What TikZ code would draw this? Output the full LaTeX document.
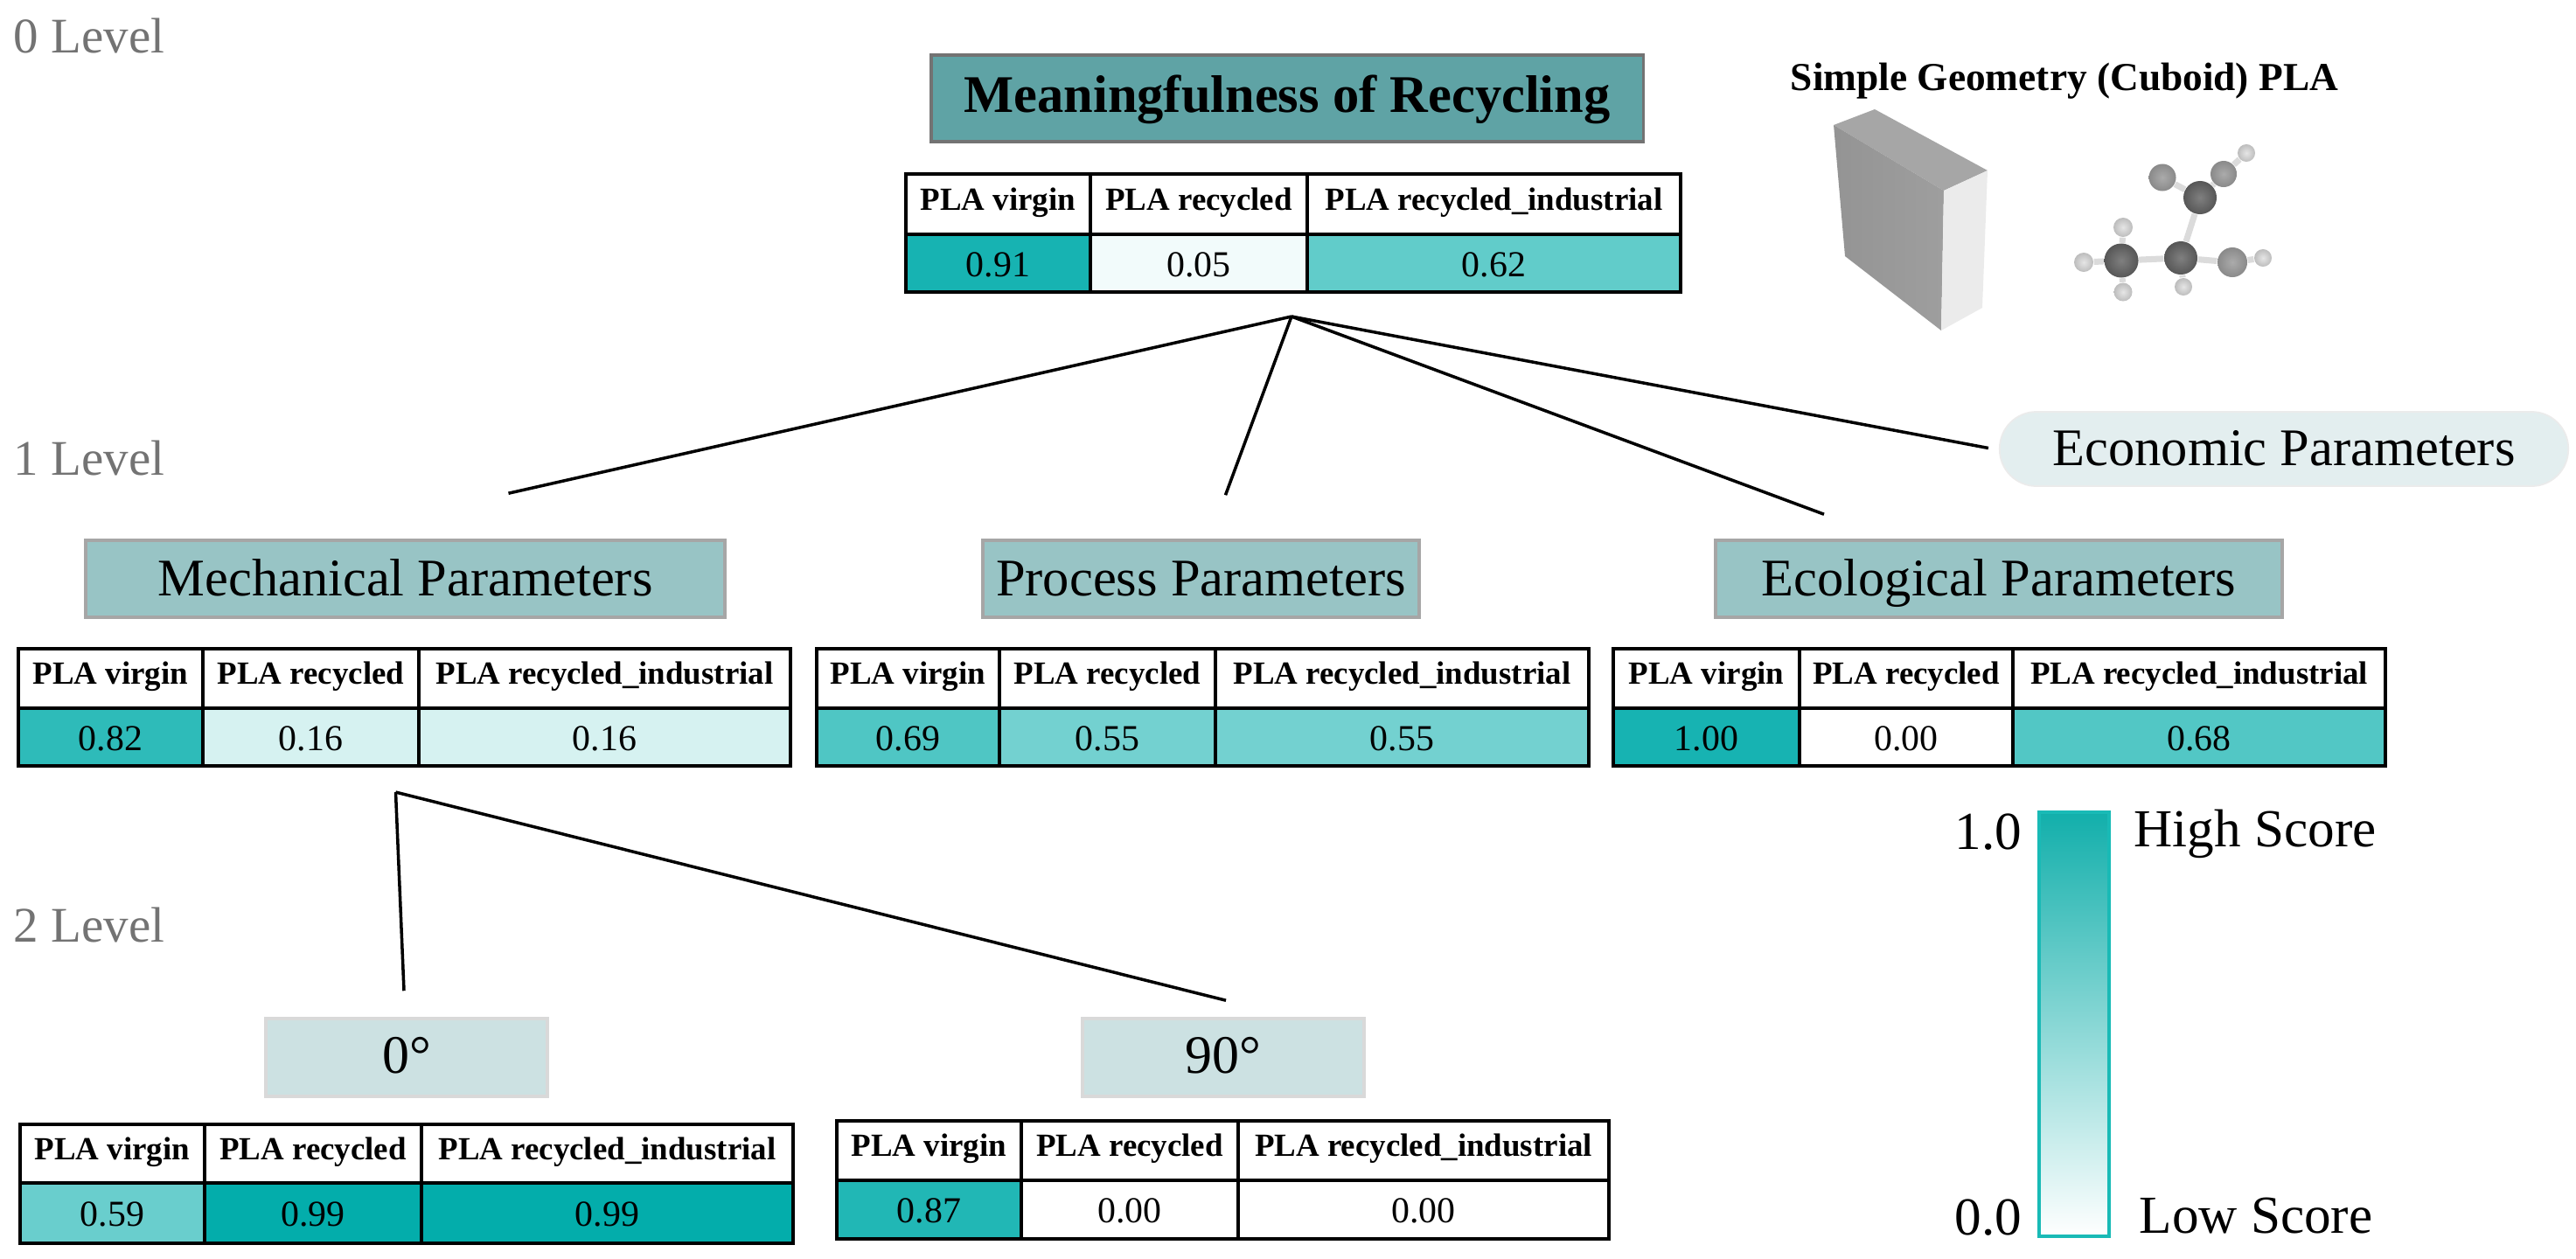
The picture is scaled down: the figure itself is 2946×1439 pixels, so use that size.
\documentclass[tikz,border=0pt]{standalone}
\usepackage{fontspec}
\usepackage{xcolor}
\setmainfont{Liberation Serif}

\definecolor{plateal}{HTML}{00ACAA}
\definecolor{titlefill}{HTML}{5FA3A5}
\definecolor{paramfill}{HTML}{98C4C5}
\definecolor{degfill}{HTML}{CCE1E2}
\definecolor{econfill}{HTML}{E3EEEF}
\definecolor{barline}{HTML}{19BAB6}
\definecolor{bartop}{HTML}{12AFAB}
\definecolor{barmid}{HTML}{9ACDCA}

\tikzset{
    levellabel/.style={anchor=base west,inner sep=0pt,text=black!55,font=\fontsize{16.2}{20}\selectfont},
    titlebox/.style={draw=black!55,line width=1pt,fill=titlefill,inner sep=0pt,text height=.46cm,text depth=.15cm,font=\bfseries\fontsize{17.2}{20}\selectfont},
    parambox/.style={draw=black!35,line width=1pt,fill=paramfill,inner sep=0pt,text height=.51cm,text depth=.13cm,font=\fontsize{17.2}{20}\selectfont},
    degbox/.style={draw=black!15,line width=1pt,fill=degfill,inner sep=0pt,text height=.45cm,text depth=.10cm,font=\fontsize{17.6}{20}\selectfont},
    econbox/.style={draw=black!8,line width=.5pt,fill=econfill,rounded corners=0.42cm,inner sep=0pt,text height=.51cm,text depth=.14cm,font=\fontsize{17.2}{20}\selectfont},
    headcell/.style={draw=black,line width=1.1pt,fill=white,inner sep=0pt,outer sep=0pt,text height=.28cm,text depth=.15cm,font=\bfseries\fontsize{10.5}{12}\selectfont},
    valcell/.style={draw=black,line width=1.1pt,inner sep=0pt,outer sep=0pt,text height=.3cm,text depth=0cm,font=\fontsize{11.9}{14}\selectfont},
    link/.style={line width=1pt,black},
    plaintext/.style={anchor=base,inner sep=0pt,font=\fontsize{17.4}{20}\selectfont},
    atom/.style={circle,inner sep=0pt,minimum size=#1},
    bigatom/.style={atom=#1,inner color=black!50,outer color=black!66},
    midatom/.style={atom=#1,inner color=black!33,outer color=black!46},
    tinyatom/.style={atom=#1,inner color=black!10,outer color=black!26},
    bond/.style={line width=2pt,black!14},
}

\begin{document}
\begin{tikzpicture}[x=0.01cm,y=-0.01cm]
    \useasboundingbox (0,0) rectangle (2946,1439);

    % level labels
    \node[levellabel] (lvlzero) at (15,60) {0 Level};
    \node[levellabel] (lvlone) at (15,543) {1 Level};
    \node[levellabel] (lvltwo) at (15,1077) {2 Level};

    % titles of the tree
    \node[titlebox,minimum width=8.14cm,minimum height=0.99cm] (meaning) at (1472,112.5) {Meaningfulness of Recycling};
    \foreach \nm/\cx/\bw/\txt in {
        mech/463.5/7.31/Mechanical Parameters,
        proc/1373.5/4.99/Process Parameters,
        eco/2286/6.48/Ecological Parameters}
            \node[parambox,minimum width=\bw cm,minimum height=0.88cm] (\nm) at (\cx,662) {\txt};
    \node[econbox,minimum width=6.5cm,minimum height=0.85cm] (econ) at (2612,513.5) {Economic Parameters};
    \node[degbox,minimum width=3.22cm,minimum height=0.89cm] (degzero) at (465,1209.5) {0°};
    \node[degbox,minimum width=3.22cm,minimum height=0.89cm] (degninety) at (1399,1209.5) {90°};

    % the tables, one row of the list per table
    \foreach \nm/\xa/\xb/\xc/\xd/\ya/\yb/\yc/\va/\vb/\vc in {
        top/1036/1247/1495/1922/199/268/334/0.91/0.05/0.62,
        mc/21/232/479/904/742/810/876/0.82/0.16/0.16,
        pr/934/1143/1390/1817/742/810/876/0.69/0.55/0.55,
        ec/1845/2058/2302/2728/742/810/876/1.00/0.00/0.68,
        dz/23/234/482/907/1286/1353/1422/0.59/0.99/0.99,
        dn/957/1168/1416/1840/1282/1350/1417/0.87/0.00/0.00} {
        \foreach \col/\xl/\xr/\hd/\vv in {
            1/\xa/\xb/PLA virgin/\va,
            2/\xb/\xc/PLA recycled/\vb,
            3/\xc/\xd/PLA recycled\_industrial/\vc} {
                % the 1.00 cell is printed a little lighter than 0.99
                \pgfmathsetmacro{\pc}{ifthenelse(\vv==1,91,100*\vv)}
                \pgfmathsetmacro{\wcell}{(\xr-\xl)*0.01}
                \pgfmathsetmacro{\hhead}{(\yb-\ya)*0.01}
                \pgfmathsetmacro{\hval}{(\yc-\yb)*0.01}
                \node[headcell,minimum width=\wcell cm,minimum height=\hhead cm] (\nm-h\col) at ({(\xl+\xr)/2},{(\ya+\yb)/2}) {\hd};
                \node[valcell,fill=plateal!\pc!white,minimum width=\wcell cm,minimum height=\hval cm] (\nm-v\col) at ({(\xl+\xr)/2},{(\yb+\yc)/2}) {\vv};
        }
    }

    % free ends of the tree lines
    \coordinate (hubtop) at ([shift={(106,28)}]top-v2.south);
    \coordinate (hubmech) at ([shift={(97,30)}]mc-v2.south);
    \coordinate (endmech) at ([shift={(118,-52)}]mech.north);
    \coordinate (endproc) at ([shift={(28,-50)}]proc.north);
    \coordinate (endeco) at ([shift={(-200,-28)}]eco.north);
    \coordinate (endecon) at ([shift={(-12,-1)}]econ.west);
    \coordinate (enddegzero) at ([shift={(-3,-30)}]degzero.north);
    \coordinate (enddegninety) at ([shift={(3,-19)}]degninety.north);

    % draw the lines of the tree
    \foreach \e in {endmech,endproc,endeco,endecon}
        \draw[link] (hubtop) -- (\e);
    \foreach \e in {enddegzero,enddegninety}
        \draw[link] (hubmech) -- (\e);

    % the cuboid
    \node[inner sep=0pt,font=\bfseries\fontsize{12.9}{15}\selectfont] (cubtitle) at (2361,93) {Simple Geometry (Cuboid) PLA};
    \fill[black!35] (2097,143) -- (2144,125) -- (2273,195) -- (2223,218) -- cycle;
    \shade[left color=black!42,right color=black!38] (2097,143) -- (2223,218) -- (2220,378) -- (2110,293) -- cycle;
    \fill[black!8] (2223,218) -- (2273,195) -- (2267,352) -- (2220,378) -- cycle;

    % the molecule
    \foreach \nm/\cx/\cy/\kind/\sz in {
        ca/2516/226/bigatom/.38cm,
        cb/2426/298/bigatom/.39cm,
        cc/2494/295/bigatom/.38cm,
        oa/2473/203/midatom/.31cm,
        ob/2543/199/midatom/.30cm,
        oc/2553/300/midatom/.34cm,
        ha/2569/175/tinyatom/.20cm,
        hb/2428/260/tinyatom/.22cm,
        hc/2383/300/tinyatom/.22cm,
        hd/2428/334/tinyatom/.21cm,
        he/2497/328/tinyatom/.20cm,
        hf/2588/295/tinyatom/.20cm}
            \node[\kind=\sz] (\nm) at (\cx,\cy) {};
    \foreach \a/\b in {ca/oa,ca/ob,ca/cc,ob/ha,cb/cc,cc/oc,oc/hf,cb/hb,cb/hc,cb/hd,cc/he}
        \draw[bond] (\a) -- (\b);

    % the colour scale
    \node[draw=barline,line width=1.1pt,inner sep=0pt,minimum width=.8cm,minimum height=4.85cm,top color=bartop,middle color=barmid,bottom color=white] (scalebar) at (2372,1171.5) {};
    \node[plaintext] (scaletop) at (2274,971) {1.0};
    \node[plaintext] (scalebot) at (2274,1412) {0.0};
    \node[plaintext,anchor=base west] (scalehigh) at (2440,968) {High Score};
    \node[plaintext,anchor=base west] (scalelow) at (2446,1410) {Low Score};
\end{tikzpicture}
\end{document}
